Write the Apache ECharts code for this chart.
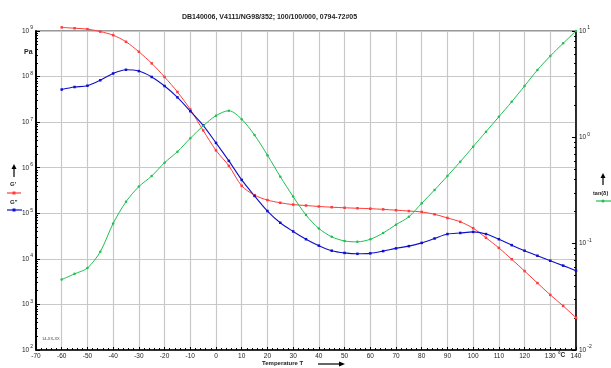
<!DOCTYPE html>
<html>
<head>
<meta charset="utf-8">
<script src="https://cdn.jsdelivr.net/npm/echarts@6/dist/echarts.min.js"></script>
<style>
  html, body { margin: 0; padding: 0; background: #fff; }
  #chart { width: 611px; height: 368px; }
</style>
</head>
<body>
<div id="chart"></div>
<script>
// temperature in °C
const temps = [-60, -55, -50, -45, -40, -35, -30, -25, -20, -15, -10, -5, 0, 5, 10, 15, 20, 25, 30, 35,
  40, 45, 50, 55, 60, 65, 70, 75, 80, 85, 90, 95, 100, 105, 110, 115, 120, 125, 130, 135, 140]

// G' in Pa
const gPrime = [1.2e9, 1.15e9, 1.1e9, 9.7e8, 8.1e8, 5.8e8, 3.5e8, 1.95e8, 9.8e7, 4.6e7, 1.9e7, 6.6e6, 2.4e6, 1.1e6, 4.0e5, 2.5e5, 1.95e5, 1.7e5, 1.55e5, 1.48e5,
  1.41e5, 1.36e5, 1.32e5, 1.29e5, 1.26e5, 1.22e5, 1.17e5, 1.12e5, 1.07e5, 9.5e4, 7.9e4, 6.5e4, 4.7e4, 2.9e4, 1.74e4, 9.8e3, 5.4e3, 2.95e3, 1.62e3, 9.3e2, 5.1e2]

// G'' in Pa
const gDouble = [5.2e7, 5.9e7, 6.3e7, 8.3e7, 1.17e8, 1.41e8, 1.32e8, 9.8e7, 6.2e7, 3.5e7, 1.74e7, 8.5e6, 3.5e6, 1.41e6, 5.4e5, 2.4e5, 1.12e5, 6.2e4, 4.0e4, 2.7e4,
  1.95e4, 1.51e4, 1.35e4, 1.29e4, 1.32e4, 1.48e4, 1.7e4, 1.9e4, 2.24e4, 2.8e4, 3.5e4, 3.7e4, 3.9e4, 3.5e4, 2.7e4, 2.0e4, 1.51e4, 1.17e4, 9.1e3, 7.1e3, 5.5e3]

// tan(delta)
const tanDelta = [0.046, 0.052, 0.059, 0.084, 0.155, 0.248, 0.344, 0.433, 0.578, 0.733, 0.98, 1.28, 1.60, 1.78, 1.48, 1.05, 0.68, 0.427, 0.277, 0.186,
  0.139, 0.116, 0.106, 0.104, 0.110, 0.126, 0.151, 0.179, 0.240, 0.320, 0.433, 0.590, 0.817, 1.13, 1.56, 2.16, 3.04, 4.30, 5.82, 7.66, 10.0]

const titleText = 'DB140006, V4111/NG98/352; 100/100/000, 0794-72#05'

const FONT = 'Liberation Sans'
const pair = (ys) => temps.map((t, i) => [t, ys[i]])
const powLabel = (v) => {
  const e = Math.round(Math.log10(v))
  return '{b|10}{s|' + e + '}'
}
const powRich = {
  b: { fontSize: 6.5, fontFamily: FONT, color: '#222' },
  s: { fontSize: 5, fontFamily: FONT, color: '#222', padding: [0, 0, 6, 1] }
}

const chart = echarts.init(document.getElementById('chart'))
chart.setOption({
  backgroundColor: '#fff',
  animation: false,
  title: {
    text: titleText,
    left: 177,
    top: 9,
    textStyle: { fontSize: 7, fontWeight: 'bold', fontFamily: FONT, color: '#222' }
  },
  grid: {
    left: 36,
    right: 35,
    top: 31,
    bottom: 18,
    show: true,
    borderColor: '#333',
    borderWidth: 1
  },
  xAxis: {
    type: 'value',
    min: -70,
    max: 140,
    interval: 10,
    axisLine: { onZero: false, lineStyle: { color: '#000', width: 1.5 } },
    axisTick: { inside: true, length: 3, lineStyle: { color: '#000' } },
    minorTick: { show: true, splitNumber: 5, length: 2, lineStyle: { color: '#000' } },
    axisLabel: { fontSize: 6.5, fontFamily: FONT, color: '#222', margin: 3 },
    splitLine: { show: true, lineStyle: { color: '#c8c8c8', width: 1.2 } }
  },
  yAxis: [{
    type: 'log',
    logBase: 10,
    min: 100,
    max: 1e9,
    axisLine: { show: true, onZero: false, lineStyle: { color: '#000', width: 2 } },
    axisTick: { inside: true, length: 4, lineStyle: { color: '#000' } },
    minorTick: { show: true, splitNumber: 9, length: 2, lineStyle: { color: '#000' } },
    axisLabel: { formatter: powLabel, rich: powRich, margin: 3 },
    splitLine: { show: true, lineStyle: { color: '#c8c8c8', width: 1.2 } }
  }, {
    type: 'log',
    logBase: 10,
    min: 0.01,
    max: 10,
    position: 'right',
    axisLine: { show: true, onZero: false, lineStyle: { color: '#000', width: 1.5 } },
    axisTick: { inside: true, length: 4, lineStyle: { color: '#000' } },
    minorTick: { show: true, splitNumber: 9, length: 2, lineStyle: { color: '#000' } },
    axisLabel: { formatter: powLabel, rich: powRich, margin: 3 },
    splitLine: { show: false }
  }],
  series: [{
    name: "G'",
    type: 'line',
    yAxisIndex: 0,
    clip: false,
    smooth: 0.3,
    symbol: 'rect',
    symbolSize: 2.5,
    lineStyle: { color: '#ff3c3c', width: 1 },
    itemStyle: { color: '#ff3c3c' },
    data: pair(gPrime)
  }, {
    name: "G''",
    type: 'line',
    yAxisIndex: 0,
    smooth: 0.3,
    symbol: 'rect',
    symbolSize: 2.5,
    lineStyle: { color: '#1010c8', width: 1.1 },
    itemStyle: { color: '#1010c8' },
    data: pair(gDouble)
  }, {
    name: 'tan(δ)',
    type: 'line',
    yAxisIndex: 1,
    smooth: 0.3,
    symbol: 'circle',
    symbolSize: 2.5,
    lineStyle: { color: '#1ec050', width: 1 },
    itemStyle: { color: '#1ec050' },
    data: pair(tanDelta)
  }],
  graphic: [
    { type: 'text', left: 24, top: 49, style: { text: 'Pa', font: 'bold 7px ' + FONT, fill: '#222' } },
    // left legend
    { type: 'line', shape: { x1: 14, y1: 177, x2: 14, y2: 168 }, style: { stroke: '#000', lineWidth: 1.2 } },
    { type: 'polygon', shape: { points: [[11.5, 169], [16.5, 169], [14, 164]] }, style: { fill: '#000' } },
    { type: 'text', left: 10, top: 181, style: { text: "G'", font: 'bold 6px ' + FONT, fill: '#222' } },
    { type: 'line', shape: { x1: 7, y1: 193, x2: 21, y2: 193 }, style: { stroke: '#ff3c3c', lineWidth: 1.2 } },
    { type: 'rect', shape: { x: 12.5, y: 191.5, width: 3, height: 3 }, style: { fill: '#ff3c3c' } },
    { type: 'text', left: 10, top: 199, style: { text: "G''", font: 'bold 6px ' + FONT, fill: '#222' } },
    { type: 'line', shape: { x1: 7, y1: 210, x2: 22, y2: 210 }, style: { stroke: '#1010c8', lineWidth: 1.2 } },
    { type: 'rect', shape: { x: 12.5, y: 208.5, width: 3, height: 3 }, style: { fill: '#1010c8' } },
    // right legend
    { type: 'line', shape: { x1: 603, y1: 185, x2: 603, y2: 177 }, style: { stroke: '#000', lineWidth: 1.2 } },
    { type: 'polygon', shape: { points: [[600.5, 178], [605.5, 178], [603, 173]] }, style: { fill: '#000' } },
    { type: 'text', left: 593, top: 190, style: { text: 'tan(δ)', font: 'bold 5.5px ' + FONT, fill: '#222' } },
    { type: 'line', shape: { x1: 596, y1: 201, x2: 611, y2: 201 }, style: { stroke: '#1ec050', lineWidth: 1.2 } },
    { type: 'circle', shape: { cx: 603, cy: 201, r: 1.5 }, style: { fill: '#1ec050' } },
    // x axis name, unit, arrow
    { type: 'text', left: 262, top: 360, style: { text: 'Temperature T', font: 'bold 6px ' + FONT, fill: '#222' } },
    { type: 'line', shape: { x1: 318, y1: 364, x2: 340, y2: 364 }, style: { stroke: '#000', lineWidth: 1.2 } },
    { type: 'polygon', shape: { points: [[339, 361.5], [339, 366.5], [345, 364]] }, style: { fill: '#000' } },
    { type: 'text', left: 558, top: 352, style: { text: '°C', font: 'bold 6.5px ' + FONT, fill: '#222' } },
    { type: 'text', left: 42, top: 337, style: { text: '14-XX-XX', font: '4px ' + FONT, fill: '#444' } }
  ]
})
</script>
</body>
</html>
